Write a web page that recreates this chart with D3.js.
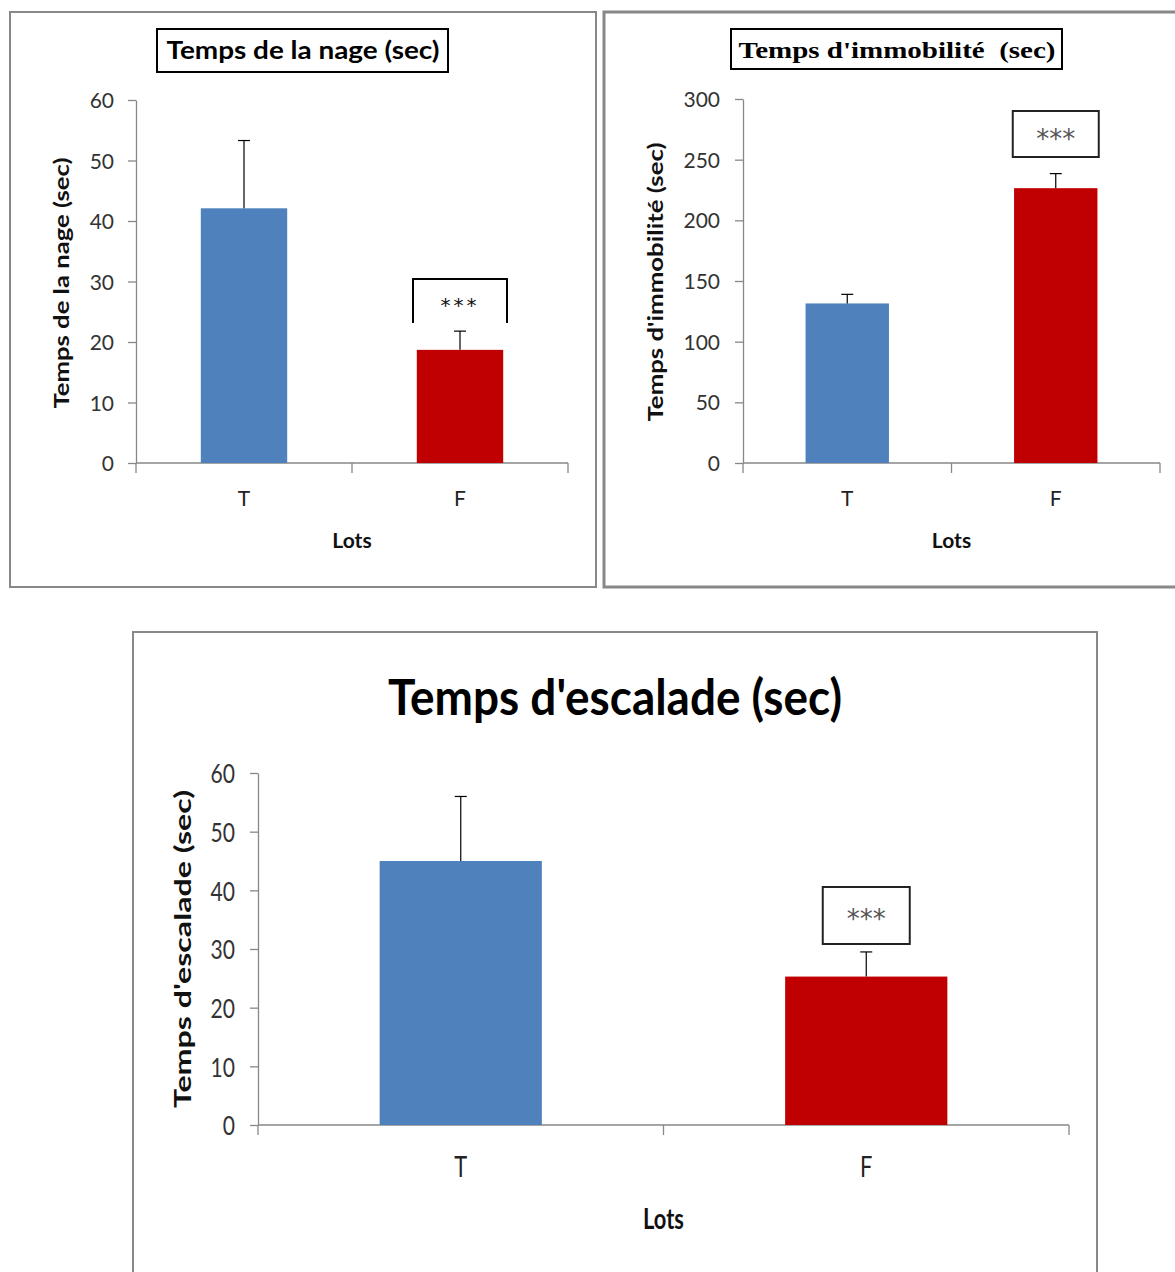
<!DOCTYPE html>
<html><head><meta charset="utf-8">
<script src="https://cdn.jsdelivr.net/npm/d3@7"></script>
<style>body{margin:0;background:#fff}svg{display:block}</style>
</head><body>
<script>
// ---- data ----
const categories = ["T", "F"];
const nageMeans = [42.1, 18.7];
const nageErr = [11.2, 3.1];
const nageTicks = [0, 10, 20, 30, 40, 50, 60];
const immoMeans = [131.5, 226.5];
const immoErr = [7.5, 12];
const immoTicks = [0, 50, 100, 150, 200, 250, 300];
const escMeans = [45.0, 25.3];
const escErr = [11.0, 4.2];
const escTicks = [0, 10, 20, 30, 40, 50, 60];
const titles = ["Temps de la nage (sec)", "Temps d'immobilité  (sec)", "Temps d'escalade (sec)"];
const yTitles = ["Temps de la nage (sec)", "Temps d'immobilité (sec)", "Temps d'escalade (sec)"];
const xTitle = "Lots";
const sigLabel = "***";
const colors = ["#4F81BD", "#C00000"];

const svg = d3.select("body").append("svg").attr("width", 1175).attr("height", 1272);
svg.append("rect").attr("width", 1175).attr("height", 1272).attr("fill", "#fff");

function panel(o) {
  const g = svg.append("g");
  // frame
  g.append("rect").attr("x", o.frame[0]).attr("y", o.frame[1]).attr("width", o.frame[2]).attr("height", o.frame[3])
    .attr("fill", "none").attr("stroke", "#888").attr("stroke-width", o.frameW || 2);
  const y = d3.scaleLinear().domain([0, d3.max(o.ticks)]).range([o.y0, o.y1]);
  const x = d3.scaleBand().domain(categories).range([o.x0, o.x1]).padding(0);
  const bw = x.bandwidth() * 0.4;
  // y axis
  const ya = g.append("g").attr("transform", `translate(${o.x0},0)`)
    .call(d3.axisLeft(y).tickValues(o.ticks).tickSize(8).tickPadding(o.tickPad).tickSizeOuter(0));
  ya.select(".domain").attr("stroke", "#878787").attr("stroke-width", 1.3);
  ya.selectAll(".tick line").attr("stroke", "#878787").attr("stroke-width", 1.3);
  ya.selectAll(".tick text").attr("font-family", o.tickFont).attr("font-size", o.tickSize).attr("fill", "#333")
    .attr("dy", "0.36em");
  if (o.tickStretch) ya.selectAll(".tick text").attr("transform", null).each(function () {
    const t = d3.select(this); const xx = +t.attr("x");
    t.attr("transform", `translate(${xx},0) scale(${o.tickStretch},1) translate(${-xx},0)`);
  });
  // x axis line + boundary ticks
  g.append("line").attr("x1", o.x0).attr("x2", o.x1).attr("y1", o.y0).attr("y2", o.y0)
    .attr("stroke", "#878787").attr("stroke-width", 1.3);
  const bounds = [o.x0].concat(categories.map(c => x(c) + x.bandwidth()));
  g.selectAll(".bt").data(bounds).enter().append("line")
    .attr("x1", d => d).attr("x2", d => d).attr("y1", o.y0).attr("y2", o.y0 + 10)
    .attr("stroke", "#878787").attr("stroke-width", 1.3);
  // bars
  g.selectAll(".bar").data(o.means).enter().append("rect")
    .attr("x", (d, i) => x(categories[i]) + x.bandwidth() / 2 - bw / 2)
    .attr("width", bw)
    .attr("y", d => y(d)).attr("height", d => y(0) - y(d))
    .attr("fill", (d, i) => colors[i]);
  // error bars
  o.means.forEach((m, i) => {
    const cx = x(categories[i]) + x.bandwidth() / 2;
    g.append("line").attr("x1", cx).attr("x2", cx).attr("y1", y(m)).attr("y2", y(m + o.err[i]))
      .attr("stroke", "#000").attr("stroke-width", 1.2);
    g.append("line").attr("x1", cx - 6).attr("x2", cx + 6).attr("y1", y(m + o.err[i])).attr("y2", y(m + o.err[i]))
      .attr("stroke", "#000").attr("stroke-width", 1.2);
  });
  // category labels
  categories.forEach(c => {
    const t = g.append("text").attr("x", x(c) + x.bandwidth() / 2).attr("y", o.catY)
      .attr("text-anchor", "middle").attr("font-family", o.tickFont).attr("font-size", o.catSize).attr("fill", "#222").text(c);
    if (o.tickStretch) { const xx = x(c) + x.bandwidth() / 2; t.attr("transform", `translate(${xx},0) scale(${o.tickStretch},1) translate(${-xx},0)`); }
  });
  // x title
  const lt = g.append("text").attr("x", (o.x0 + o.x1) / 2).attr("y", o.lotsY).attr("text-anchor", "middle")
    .attr("font-family", o.tickFont).attr("font-weight", "bold").attr("font-size", o.lotsSize).attr("fill", "#111").text(xTitle);
  if (o.tickStretch) { const xx = (o.x0 + o.x1) / 2; lt.attr("transform", `translate(${xx},0) scale(${o.tickStretch},1) translate(${-xx},0)`); }
  // y title
  g.append("text").attr("transform", `translate(${o.yTitleX},${o.yTitleY}) rotate(-90)`)
    .attr("text-anchor", "middle").attr("font-family", "Lato, 'Open Sans', sans-serif").attr("font-weight", "bold")
    .attr("font-size", o.yTitleSize).attr("fill", "#111")
    .attr("textLength", o.yTitleLen).attr("lengthAdjust", "spacingAndGlyphs").text(o.yTitle);
  // title
  if (o.titleBox) g.append("rect").attr("x", o.titleBox[0]).attr("y", o.titleBox[1]).attr("width", o.titleBox[2]).attr("height", o.titleBox[3])
    .attr("fill", "#fff").attr("stroke", "#000").attr("stroke-width", 2);
  g.append("text").attr("x", o.titleX).attr("y", o.titleY).attr("text-anchor", "middle")
    .style("white-space", "pre")
    .attr("font-family", o.titleFont).attr("font-weight", "bold").attr("font-size", o.titleSize).attr("fill", "#000")
    .attr("textLength", o.titleLen).attr("lengthAdjust", "spacingAndGlyphs").text(o.title);
  // significance
  const fx = x(categories[1]) + x.bandwidth() / 2;
  const s = o.sig;
  if (s.bracket) {
    g.append("path").attr("d", `M${fx - s.w / 2},${s.y1} V${s.y0} H${fx + s.w / 2} V${s.y1}`)
      .attr("fill", "none").attr("stroke", "#000").attr("stroke-width", 2);
  } else {
    g.append("rect").attr("x", fx - s.w / 2).attr("y", s.y0).attr("width", s.w).attr("height", s.y1 - s.y0)
      .attr("fill", "#fff").attr("stroke", "#222").attr("stroke-width", 2);
  }
  g.append("text").attr("x", fx).attr("y", s.ty).attr("text-anchor", "middle")
    .attr("font-family", "'DejaVu Sans', sans-serif").attr("font-size", s.size).attr("fill", s.color)
    .attr("letter-spacing", s.ls).text(sigLabel);
}

panel({
  frame: [10, 12, 586, 575], ticks: nageTicks, means: nageMeans, err: nageErr,
  x0: 136, x1: 568, y0: 463, y1: 100, tickPad: 14, tickFont: "Lato, 'Open Sans', sans-serif", tickSize: 21,
  catY: 506, catSize: 21, lotsY: 548, lotsSize: 21,
  yTitleX: 69, yTitleY: 283, yTitleSize: 20, yTitleLen: 251, yTitle: yTitles[0],
  titleBox: [157, 29, 291, 43], titleX: 303, titleY: 59, titleSize: 24, titleLen: 273,
  titleFont: "Lato, 'Open Sans', sans-serif", title: titles[0],
  sig: { bracket: true, w: 94, y0: 279, y1: 323, ty: 312, size: 20, color: "#111", ls: 3 }
});

panel({
  frame: [604, 12, 575, 575], frameW: 3, ticks: immoTicks, means: immoMeans, err: immoErr,
  x0: 743, x1: 1160, y0: 463, y1: 99, tickPad: 15, tickFont: "Lato, 'Open Sans', sans-serif", tickSize: 21,
  catY: 506, catSize: 21, lotsY: 548, lotsSize: 21,
  yTitleX: 663, yTitleY: 282, yTitleSize: 20, yTitleLen: 279, yTitle: yTitles[1],
  titleBox: [731, 29, 331, 40], titleX: 897, titleY: 58, titleSize: 24, titleLen: 317,
  titleFont: "'Liberation Serif', 'Times New Roman', serif", title: titles[1],
  sig: { bracket: false, w: 86, y0: 111, y1: 157, ty: 148, size: 26, color: "#555", ls: 0 }
});

panel({
  frame: [133, 632, 964, 660], ticks: escTicks, means: escMeans, err: escErr,
  x0: 258, x1: 1069, y0: 1125, y1: 773, tickPad: 15, tickFont: "Lato, 'Open Sans', sans-serif", tickSize: 27, tickStretch: 0.78,
  catY: 1177, catSize: 28, lotsY: 1229, lotsSize: 28,
  yTitleX: 191, yTitleY: 949, yTitleSize: 22, yTitleLen: 318, yTitle: yTitles[2],
  titleBox: null, titleX: 615, titleY: 715, titleSize: 50, titleLen: 454,
  titleFont: "Lato, 'Open Sans', sans-serif", title: titles[2],
  sig: { bracket: false, w: 87, y0: 887, y1: 944, ty: 928, size: 26, color: "#555", ls: 0 }
});
</script>
</body></html>
